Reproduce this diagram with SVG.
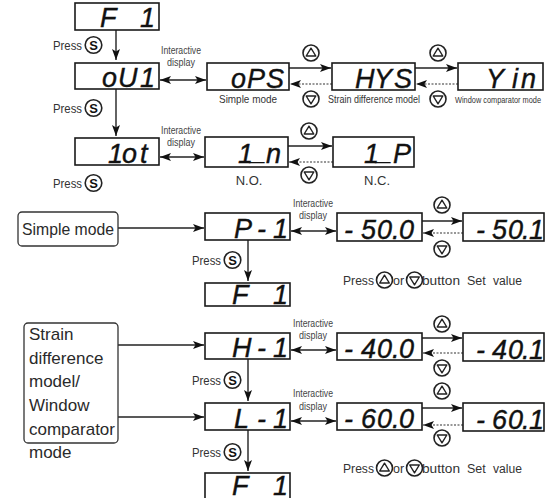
<svg xmlns="http://www.w3.org/2000/svg" width="550" height="498" viewBox="0 0 550 498">
<style>
.box{fill:#fff;stroke:#1a1a1a;stroke-width:1.6}
.mode{fill:#fff;stroke:#333;stroke-width:1.3}
.disp{font-family:"Liberation Sans",Arial,sans-serif;font-style:italic;font-size:27px;fill:#111;stroke:#111;stroke-width:0.4}
.lbl{font-family:"Liberation Sans",Arial,sans-serif;font-size:10.5px;fill:#333}
.ia{font-family:"Liberation Sans",Arial,sans-serif;font-size:10px;fill:#444;text-anchor:middle}
.prs{font-family:"Liberation Sans",Arial,sans-serif;font-size:12.5px;fill:#333}
.big{font-family:"Liberation Sans",Arial,sans-serif;font-size:17px;fill:#2a2a2a}
.ln{stroke:#222;stroke-width:1.4;fill:none}
.dot{stroke:#777;stroke-width:1.4;fill:none;stroke-dasharray:2 1.5}
.btn{fill:#fff;stroke:#222;stroke-width:1.6}
.tri{fill:none;stroke:#222;stroke-width:1.4;stroke-linejoin:round}
.s{font-family:"Liberation Sans",Arial,sans-serif;font-weight:bold;font-size:13px;fill:#111;text-anchor:middle}
</style>
<defs>
<marker id="a" viewBox="0 0 11 8" refX="11" refY="4" markerWidth="11" markerHeight="8" markerUnits="userSpaceOnUse" orient="auto-start-reverse"><path d="M0,0 L11,4 L0,8 L2.5,4Z" fill="#111"/></marker>
<g id="sbtn"><circle r="8.3" class="btn" stroke-width="2"/><text y="4.6" class="s">S</text></g>
<g id="up"><circle r="8" class="btn"/><path d="M0,-4.8 L-4.8,3 L4.8,3Z" class="tri"/></g>
<g id="dn"><circle r="8" class="btn"/><path d="M0,4.8 L-4.8,-3 L4.8,-3Z" class="tri"/></g>
</defs>
<rect width="550" height="498" fill="#fff"/>

<g id="connectors">
<line x1="116" y1="30" x2="116" y2="60" class="ln" marker-end="url(#a)"/>
<line x1="116" y1="89" x2="116" y2="136" class="ln" marker-end="url(#a)"/>
<line x1="160" y1="80" x2="206" y2="80" class="ln" marker-start="url(#a)" marker-end="url(#a)"/>
<line x1="289" y1="68" x2="331" y2="68" class="ln" marker-end="url(#a)"/>
<line x1="332" y1="84" x2="290" y2="84" class="dot" marker-end="url(#a)"/>
<line x1="415" y1="68" x2="457" y2="68" class="ln" marker-end="url(#a)"/>
<line x1="458" y1="84" x2="416" y2="84" class="dot" marker-end="url(#a)"/>
<line x1="160" y1="157" x2="204" y2="157" class="ln" marker-start="url(#a)" marker-end="url(#a)"/>
<line x1="288" y1="146" x2="332" y2="146" class="ln" marker-end="url(#a)"/>
<line x1="333" y1="162" x2="289" y2="162" class="dot" marker-end="url(#a)"/>
<line x1="118" y1="228" x2="204" y2="228" class="ln" marker-end="url(#a)"/>
<line x1="291" y1="231" x2="336" y2="231" class="ln" marker-start="url(#a)" marker-end="url(#a)"/>
<line x1="248" y1="240" x2="248" y2="281" class="ln" marker-end="url(#a)"/>
<line x1="422" y1="221" x2="462" y2="221" class="ln" marker-end="url(#a)"/>
<line x1="463" y1="233" x2="423" y2="233" class="dot" marker-end="url(#a)"/>
<line x1="118" y1="345" x2="204" y2="345" class="ln" marker-end="url(#a)"/>
<line x1="118" y1="417" x2="204" y2="417" class="ln" marker-end="url(#a)"/>
<line x1="291" y1="350" x2="336" y2="350" class="ln" marker-start="url(#a)" marker-end="url(#a)"/>
<line x1="248" y1="359" x2="248" y2="401" class="ln" marker-end="url(#a)"/>
<line x1="291" y1="421" x2="336" y2="421" class="ln" marker-start="url(#a)" marker-end="url(#a)"/>
<line x1="248" y1="430" x2="248" y2="471" class="ln" marker-end="url(#a)"/>
<line x1="422" y1="338" x2="462" y2="338" class="ln" marker-end="url(#a)"/>
<line x1="463" y1="353" x2="423" y2="353" class="dot" marker-end="url(#a)"/>
<line x1="422" y1="408" x2="462" y2="408" class="ln" marker-end="url(#a)"/>
<line x1="463" y1="425" x2="423" y2="425" class="dot" marker-end="url(#a)"/>
</g>

<g id="n-f1-top"><rect x="75" y="3" width="84" height="27" class="box"/><text x="100 140" y="27" class="disp">F1</text></g>
<g id="n-ou1"><rect x="75" y="63" width="84" height="26" class="box"/><text x="102 118 140" y="87" class="disp">oU1</text></g>
<g id="n-ops"><rect x="207" y="63" width="82" height="27" class="box"/><text x="231 247 266" y="88" class="disp">oPS</text><text x="248" y="103" class="lbl" text-anchor="middle" textLength="58" lengthAdjust="spacingAndGlyphs">Simple  mode</text></g>
<g id="n-hys"><rect x="332" y="63" width="83" height="27" class="box"/><text x="355 374 394" y="88" class="disp">HYS</text><text x="374" y="103" class="lbl" text-anchor="middle" textLength="92" lengthAdjust="spacingAndGlyphs">Strain difference model</text></g>
<g id="n-yin"><rect x="458" y="63" width="85" height="27" class="box"/><text x="486 512 521" y="88" class="disp">Yin</text><text x="498" y="103" class="lbl" style="font-size:8.5px" text-anchor="middle" textLength="86" lengthAdjust="spacingAndGlyphs">Window comparator mode</text></g>
<g id="n-1ot"><rect x="75" y="138" width="84" height="27" class="box"/><text x="108 122 140" y="163" class="disp">1ot</text></g>
<g id="n-1n"><rect x="205" y="137" width="83" height="30" class="box"/><text x="238 251 266" y="163 160 163" class="disp">1_n</text><text x="249" y="185" class="prs" text-anchor="middle" style="font-size:13px">N.O.</text></g>
<g id="n-1p"><rect x="333" y="137" width="81" height="30" class="box"/><text x="364 377 393" y="163 160 163" class="disp">1_P</text><text x="377" y="185" class="prs" text-anchor="middle" style="font-size:13px">N.C.</text></g>

<g id="n-simple"><rect x="18" y="212" width="100" height="34" rx="4" class="mode"/><text x="22" y="235" class="big" textLength="92" lengthAdjust="spacingAndGlyphs">Simple mode</text></g>
<g id="n-p1"><rect x="205" y="213" width="85" height="27" class="box"/><text x="234 257 273" y="238" class="disp">P-1</text></g>
<g id="n-f1-mid"><rect x="205" y="283" width="85" height="23" class="box"/><text x="232 273" y="304" class="disp">F1</text></g>
<g id="n-m500"><rect x="337" y="213" width="85" height="28" class="box"/><text x="344 361 377 392 399" y="239" class="disp">-50.0</text></g>
<g id="n-m501"><rect x="463" y="213" width="81" height="28" class="box"/><text x="476 492 508 522 529" y="239" class="disp">-50.1</text></g>

<g id="n-strain"><rect x="24" y="323" width="94" height="120" rx="4" class="mode"/>
<text class="big"><tspan x="29" y="340">Strain</tspan><tspan x="29" y="364">difference</tspan><tspan x="29" y="387">model/</tspan><tspan x="29" y="411">Window</tspan><tspan x="29" y="435">comparator</tspan><tspan x="29" y="458">mode</tspan></text></g>
<g id="n-h1"><rect x="205" y="333" width="85" height="26" class="box"/><text x="232 257 273" y="357" class="disp">H-1</text></g>
<g id="n-m400"><rect x="337" y="333" width="85" height="27" class="box"/><text x="344 361 377 392 399" y="358" class="disp">-40.0</text></g>
<g id="n-m401"><rect x="463" y="333" width="81" height="28" class="box"/><text x="476 492 508 522 529" y="359" class="disp">-40.1</text></g>
<g id="n-l1"><rect x="205" y="403" width="85" height="27" class="box"/><text x="234 257 273" y="428" class="disp">L-1</text></g>
<g id="n-m600"><rect x="337" y="403" width="85" height="27" class="box"/><text x="344 361 377 392 399" y="428" class="disp">-60.0</text></g>
<g id="n-m601"><rect x="463" y="403" width="81" height="28" class="box"/><text x="476 492 508 522 529" y="429" class="disp">-60.1</text></g>
<g id="n-f1-bot"><rect x="205" y="473" width="85" height="30" class="box"/><text x="232 273" y="495" class="disp">F1</text></g>

<g id="labels">
<text x="181" y="53.5" class="ia" textLength="40" lengthAdjust="spacingAndGlyphs">Interactive</text><text x="181" y="66" class="ia" textLength="28" lengthAdjust="spacingAndGlyphs">display</text>
<text x="181" y="133.5" class="ia" textLength="40" lengthAdjust="spacingAndGlyphs">Interactive</text><text x="181" y="145.5" class="ia" textLength="28" lengthAdjust="spacingAndGlyphs">display</text>
<text x="313" y="206.5" class="ia" textLength="40" lengthAdjust="spacingAndGlyphs">Interactive</text><text x="313" y="218.5" class="ia" textLength="28" lengthAdjust="spacingAndGlyphs">display</text>
<text x="313" y="326.5" class="ia" textLength="40" lengthAdjust="spacingAndGlyphs">Interactive</text><text x="313" y="338.5" class="ia" textLength="28" lengthAdjust="spacingAndGlyphs">display</text>
<text x="313" y="396.5" class="ia" textLength="40" lengthAdjust="spacingAndGlyphs">Interactive</text><text x="313" y="409.5" class="ia" textLength="28" lengthAdjust="spacingAndGlyphs">display</text>

<text x="53" y="49.5" class="prs" textLength="29" lengthAdjust="spacingAndGlyphs">Press</text><use href="#sbtn" x="93.5" y="45"/>
<text x="53" y="112.5" class="prs" textLength="29" lengthAdjust="spacingAndGlyphs">Press</text><use href="#sbtn" x="93.5" y="108"/>
<text x="53" y="187.5" class="prs" textLength="29" lengthAdjust="spacingAndGlyphs">Press</text><use href="#sbtn" x="93.5" y="183"/>
<text x="192" y="264.5" class="prs" textLength="29" lengthAdjust="spacingAndGlyphs">Press</text><use href="#sbtn" x="232.5" y="260"/>
<text x="192" y="384.5" class="prs" textLength="29" lengthAdjust="spacingAndGlyphs">Press</text><use href="#sbtn" x="232.5" y="380"/>
<text x="192" y="456.5" class="prs" textLength="29" lengthAdjust="spacingAndGlyphs">Press</text><use href="#sbtn" x="232.5" y="452"/>

<use href="#up" x="311" y="53"/><use href="#dn" x="311" y="99"/>
<use href="#up" x="438" y="53"/><use href="#dn" x="438" y="99"/>
<use href="#up" x="309" y="131"/><use href="#dn" x="309" y="175"/>
<use href="#up" x="442" y="205"/><use href="#dn" x="442" y="249"/>
<use href="#up" x="442" y="324"/><use href="#dn" x="442" y="368"/>
<use href="#up" x="442" y="391"/><use href="#dn" x="442" y="438"/>

<text x="343" y="284.5" class="prs" textLength="31" lengthAdjust="spacingAndGlyphs">Press</text><use href="#up" x="384.5" y="280"/><text x="393" y="284.5" class="prs">or</text><use href="#dn" x="414.5" y="280"/><text x="422" y="284.5" class="prs" textLength="38" lengthAdjust="spacingAndGlyphs">button</text><text x="467" y="284.5" class="prs">Set</text><text x="493" y="284.5" class="prs" textLength="29" lengthAdjust="spacingAndGlyphs">value</text>
<text x="343" y="472.5" class="prs" textLength="31" lengthAdjust="spacingAndGlyphs">Press</text><use href="#up" x="384.5" y="468"/><text x="393" y="472.5" class="prs">or</text><use href="#dn" x="414.5" y="468"/><text x="422" y="472.5" class="prs" textLength="38" lengthAdjust="spacingAndGlyphs">button</text><text x="467" y="472.5" class="prs">Set</text><text x="493" y="472.5" class="prs" textLength="29" lengthAdjust="spacingAndGlyphs">value</text>
</g>
</svg>
